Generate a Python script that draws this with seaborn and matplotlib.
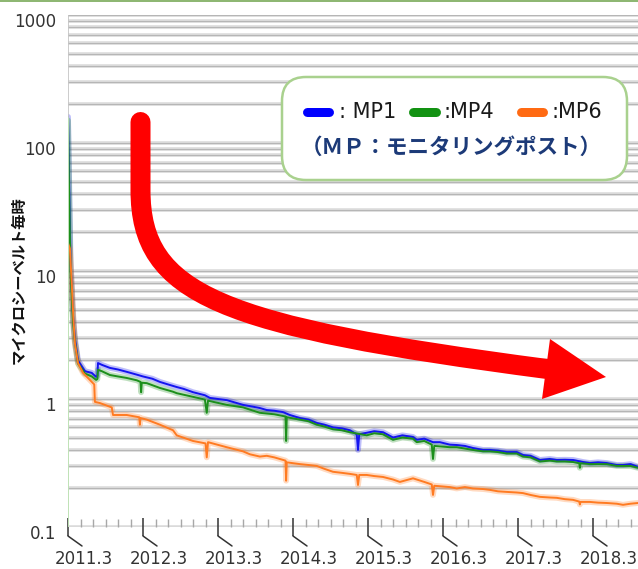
import numpy as np
import pandas as pd
import matplotlib
matplotlib.use("Agg")
import matplotlib.pyplot as plt
import seaborn as sns
from matplotlib.path import Path
from matplotlib.patches import PathPatch, FancyBboxPatch, Polygon
from matplotlib.lines import Line2D
import matplotlib.transforms as mtransforms

# ---------------- data (months since 2011.3, µSv/h) ----------------
mp1_month = [
    0.0, 0.15, 0.4, 0.8, 1.1, 1.6, 2.7, 3.8, 4.5, 4.7, 4.8,
    5.4, 6.7, 8.0, 9.4, 11.0, 12.0, 13.5, 14.7, 16.0, 17.4,
    18.5, 20.0, 21.9, 22.7, 24.0, 25.4, 27.0, 28.0, 29.1, 30.7,
    31.8, 33.0, 34.4, 35.5, 37.1, 38.5, 39.8, 41.0, 42.4, 43.8,
    45.1, 46.2, 46.4, 46.6, 47.8, 49.0, 50.4, 52.0, 53.5, 55.2,
    55.8, 57.0, 58.4, 59.5, 61.1, 62.2, 63.5, 64.8, 66.4, 67.5,
    68.8, 70.2, 71.8, 72.8, 74.0, 75.5, 77.1, 78.2, 79.5, 80.8,
    82.4, 83.5, 84.8, 86.2, 87.8, 88.8, 90.0, 91.2]
mp1_value = [
    160, 60, 12, 4.5, 3.0, 2.0, 1.65, 1.60, 1.49, 1.52, 1.91,
    1.85, 1.75, 1.70, 1.63, 1.55, 1.50, 1.44, 1.36, 1.30, 1.24,
    1.20, 1.13, 1.07, 1.02, 1.00, 0.98, 0.93, 0.90, 0.88, 0.85,
    0.82, 0.81, 0.79, 0.75, 0.71, 0.69, 0.65, 0.63, 0.60, 0.59,
    0.57, 0.53, 0.40, 0.53, 0.545, 0.56, 0.55, 0.50, 0.52, 0.505,
    0.48, 0.49, 0.46, 0.46, 0.44, 0.437, 0.43, 0.414, 0.40, 0.40,
    0.395, 0.385, 0.385, 0.365, 0.36, 0.334, 0.34, 0.334, 0.335, 0.334,
    0.322, 0.316, 0.32, 0.316, 0.305, 0.305, 0.31, 0.295]

mp4_month = [
    0.0, 0.15, 0.4, 0.8, 1.1, 1.6, 2.7, 3.8, 4.5, 4.7, 4.8,
    5.4, 6.7, 8.0, 9.4, 11.0, 11.6, 11.7, 11.8, 12.6, 14.7,
    16.8, 17.4, 20.0, 21.9, 22.2, 22.4, 25.4, 28.0, 30.7, 31.8,
    33.0, 34.8, 34.9, 35.0, 37.1, 38.5, 39.8, 41.0, 42.4, 43.8,
    45.1, 47.8, 49.0, 50.4, 52.0, 53.5, 55.2, 55.8, 57.0, 58.2,
    58.4, 58.6, 61.1, 62.2, 63.5, 64.8, 66.4, 67.5, 68.8, 70.2,
    71.8, 72.8, 74.0, 75.5, 77.1, 78.2, 79.5, 80.8, 81.8, 81.9,
    82.0, 83.5, 84.8, 86.2, 87.8, 88.8, 90.0, 91.2]
mp4_value = [
    150, 50, 10, 4.0, 2.8, 1.9, 1.58, 1.50, 1.41, 1.43, 1.69,
    1.65, 1.54, 1.50, 1.46, 1.40, 1.36, 1.13, 1.34, 1.33, 1.22,
    1.14, 1.11, 1.04, 0.99, 0.78, 0.97, 0.90, 0.86, 0.78, 0.77,
    0.76, 0.73, 0.47, 0.72, 0.69, 0.67, 0.63, 0.61, 0.58, 0.57,
    0.55, 0.52, 0.54, 0.53, 0.48, 0.50, 0.49, 0.46, 0.47, 0.44,
    0.34, 0.43, 0.42, 0.42, 0.41, 0.40, 0.39, 0.39, 0.385, 0.375,
    0.375, 0.355, 0.35, 0.325, 0.33, 0.325, 0.325, 0.322, 0.315, 0.29,
    0.315, 0.31, 0.31, 0.31, 0.30, 0.30, 0.30, 0.29]

mp6_month = [
    0.0, 0.3, 0.6, 0.85, 1.1, 1.6, 2.4, 3.5, 4.0, 4.2,
    4.3, 5.1, 6.7, 7.0, 7.2, 9.4, 11.4, 11.5, 11.6, 12.6,
    14.7, 16.8, 17.4, 20.0, 22.0, 22.2, 22.4, 25.4, 28.0, 29.1,
    30.7, 31.8, 33.0, 34.8, 34.9, 35.0, 37.1, 38.5, 39.8, 41.0,
    42.4, 43.8, 45.1, 46.2, 46.4, 46.6, 47.8, 49.0, 50.4, 52.0,
    53.1, 55.2, 57.0, 58.2, 58.4, 58.6, 61.1, 62.2, 63.5, 64.8,
    66.4, 67.5, 68.8, 70.2, 71.8, 72.8, 74.0, 75.5, 77.1, 78.2,
    79.5, 80.8, 81.8, 81.9, 82.0, 83.5, 84.8, 86.2, 87.8, 88.8,
    90.0, 91.2]
mp6_value = [
    16.5, 15.0, 8.0, 4.4, 2.74, 1.91, 1.60, 1.41, 1.33, 1.30,
    0.95, 0.93, 0.87, 0.86, 0.75, 0.75, 0.72, 0.63, 0.71, 0.69,
    0.63, 0.57, 0.52, 0.47, 0.45, 0.35, 0.46, 0.42, 0.39, 0.37,
    0.355, 0.36, 0.35, 0.33, 0.23, 0.32, 0.31, 0.305, 0.30, 0.285,
    0.27, 0.265, 0.26, 0.255, 0.213, 0.255, 0.255, 0.25, 0.246, 0.235,
    0.225, 0.24, 0.225, 0.215, 0.178, 0.21, 0.205, 0.20, 0.205, 0.20,
    0.198, 0.195, 0.19, 0.188, 0.186, 0.184, 0.178, 0.172, 0.17, 0.169,
    0.165, 0.163, 0.158, 0.15, 0.157, 0.157, 0.155, 0.154, 0.152, 0.149,
    0.152, 0.154]

stations = ["MP1", "MP4", "MP6"]
station_colors = ["#1414f0", "#1c8f1c", "#ff7b22"]
legend_colors = ["#0000ff", "#129212", "#ff6a13"]
legend_labels = [": MP1", ":MP4", ":MP6"]
legend_note = "（ＭＰ：モニタリングポスト）"
y_label = "マイクロシーベルト毎時"

x_tick_months = [0, 12, 24, 36, 48, 60, 72, 84]
x_tick_labels = ["2011.3", "2012.3", "2013.3", "2014.3", "2015.3", "2016.3", "2017.3", "2018.3"]
x_minor_months = [m for m in range(0, 92, 2) if m % 12 != 0]
y_ticks = [0.1, 1, 10, 100, 1000]
y_tick_labels = ["0.1", "1", "10", "100", "1000"]

# ---------------- figure ----------------
sns.set_style("white")
plt.rcParams['font.family'] = ['DejaVu Sans', 'Noto Sans CJK JP']

W, H = 638, 569
fig = plt.figure(figsize=(W / 100, H / 100), dpi=100)
ax = fig.add_axes([68 / W, 1 - 527 / H, 570 / W, 512 / H])
px = mtransforms.Affine2D().scale(1 / W, -1 / H).translate(0, 1) + fig.transFigure

df = pd.concat([
    pd.DataFrame({"month": mp1_month, "value": mp1_value, "station": "MP1"}),
    pd.DataFrame({"month": mp4_month, "value": mp4_value, "station": "MP4"}),
    pd.DataFrame({"month": mp6_month, "value": mp6_value, "station": "MP6"}),
], ignore_index=True)

ax.set_yscale("log")
ax.set_ylim(0.1, 1000)
ax.set_xlim(0, 91.2)

# gridlines at every log step
grid_vals = [d * k for d in [0.1, 1, 10, 100] for k in range(1, 10)] + [1000]
for v in grid_vals:
    ax.axhline(v, color="#dcdcdc", lw=3.6 * 0.72, zorder=0)
    ax.axhline(v, color="#b6b6b6", lw=1.1 * 0.72, zorder=0.1)

pal = dict(zip(stations, station_colors))
sns.lineplot(data=df, x="month", y="value", hue="station", hue_order=stations,
             palette=pal, estimator=None, lw=4.2, alpha=0.28, legend=False, ax=ax)
sns.lineplot(data=df, x="month", y="value", hue="station", hue_order=stations,
             palette=pal, estimator=None, lw=1.4, legend=False, ax=ax)
ax.set_xlabel("")
ax.set_ylabel("")

for s in ax.spines.values():
    s.set_visible(False)
# left edge line
ax.axvline(0, ymin=0, ymax=(527 - 117) / 512, color="#bfe2b6", lw=1.4, zorder=3)
ax.axvline(0, ymin=(527 - 117) / 512, ymax=1, color="#c4c4c4", lw=1.2, zorder=3)

# y tick labels (manual, offset down)
ax.set_yticks(y_ticks)
ax.yaxis.set_minor_locator(matplotlib.ticker.NullLocator())
ax.tick_params(axis="y", which="both", left=False, length=0, labelleft=False)
ytrans = mtransforms.blended_transform_factory(ax.transAxes, ax.transData) + \
    mtransforms.ScaledTranslation(-12 / 100, -7 / 100, fig.dpi_scale_trans)
for v, lab in zip(y_ticks, y_tick_labels):
    ax.text(0, v, lab, transform=ytrans, ha="right", va="center", fontsize=12,
            color="#333333")

# x ticks
ax.set_xticks(x_tick_months)
ax.set_xticks(x_minor_months, minor=True)
ax.tick_params(axis="x", which="major", bottom=True, direction="inout",
               length=18 * 0.72, width=1.1, color="#333333", labelbottom=False)
ax.tick_params(axis="x", which="minor", bottom=True, direction="in",
               length=8 * 0.72, width=1.0, color="#a8a8a8")
for t, lab in zip(x_tick_months, x_tick_labels):
    xd = ax.transData.transform((t, 1))[0]
    fig.add_artist(Line2D([xd, xd + 14], [536, 546], transform=px,
                          color="#333333", lw=1.1))
    fig.text(xd + 16, 559, lab, transform=px, ha="center", va="center",
             fontsize=12, color="#333333")

# y axis title
fig.text(18, 280, y_label, transform=px, rotation=90, ha="center", va="center",
         fontsize=11, fontweight="bold", family=["Noto Sans CJK JP"], color="#111111")

# top border line
fig.add_artist(Line2D([0, W], [0.6, 0.6], transform=px, color="#78a957", lw=1.2))

# red arrow
verts = [(140.5, 122), (140.5, 190), (140.5, 295), (220, 326), (547, 369)]
codes = [Path.MOVETO, Path.LINETO, Path.CURVE4, Path.CURVE4, Path.CURVE4]
fig.add_artist(PathPatch(Path(verts, codes), transform=px, fill=False,
                         edgecolor="#ff0000", lw=20 * 0.72, capstyle="round",
                         joinstyle="round"))
fig.add_artist(Polygon([(550, 339), (606, 377), (542, 399)], closed=True,
                       transform=px, facecolor="#ff0000", edgecolor="none"))

# legend box
fig.add_artist(FancyBboxPatch((282, 77), 345, 103,
                              boxstyle="round,pad=0,rounding_size=24",
                              transform=px, facecolor="white",
                              edgecolor="#a9d18e", lw=2.5 * 0.72))
sw_x = [(306.5, 328.5), (412.5, 435.5), (520.5, 542.5)]
tx_x = [339, 444, 552]
for (x0, x1), c, lab, tx in zip(sw_x, legend_colors, legend_labels, tx_x):
    fig.add_artist(Line2D([x0, x1], [112, 112], transform=px, color=c,
                          lw=9 * 0.72, solid_capstyle="round"))
    fig.text(tx, 112, lab, transform=px, ha="left", va="center", fontsize=15,
             color="#1a1a1a")
fig.text(451, 147, legend_note, transform=px, ha="center", va="center",
         fontsize=15.5, fontweight="bold", family=["Noto Sans CJK JP"],
         color="#1c3a78")

fig.savefig("out.png", dpi=100)
